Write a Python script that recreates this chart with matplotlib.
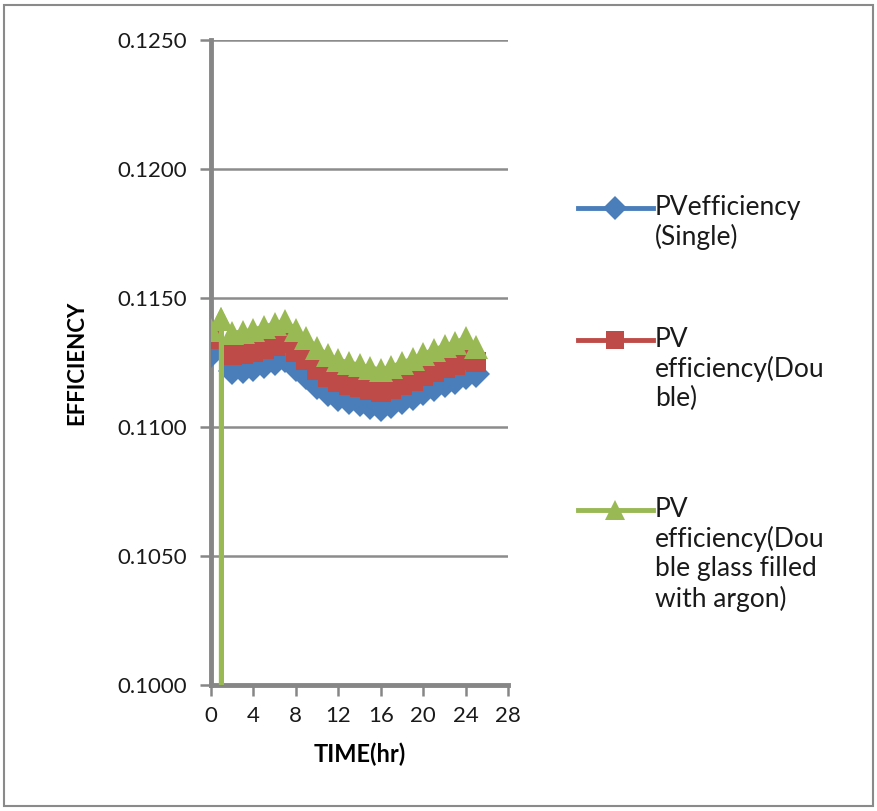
import matplotlib
matplotlib.use("Agg")
import matplotlib.pyplot as plt
import numpy as np
from matplotlib.lines import Line2D
from matplotlib.patches import Rectangle

plt.rcParams['font.family'] = ['Lato', 'DejaVu Sans']

# hora del dia (hora 1 sin dato en las series azul y roja)
hours = [0, 1, 2, 3, 4, 5, 6, 7, 8, 9, 10, 11, 12, 13, 14, 15, 16, 17, 18, 19,
         20, 21, 22, 23, 24, 25]

eff_single = [0.11283, np.nan, 0.11217, 0.11221, 0.11229, 0.11240, 0.11252, 0.11264,
              0.11229, 0.11198, 0.11159, 0.11132, 0.11112, 0.11101, 0.11093, 0.11081,
              0.11074, 0.11085, 0.11101, 0.11116, 0.11136, 0.11151, 0.11167, 0.11178,
              0.11198, 0.11205]

eff_double = [0.11341, np.nan, 0.11279, 0.11283, 0.11291, 0.11302, 0.11314, 0.11326,
              0.11291, 0.11260, 0.11221, 0.11194, 0.11174, 0.11163, 0.11155, 0.11143,
              0.11136, 0.11147, 0.11163, 0.11178, 0.11198, 0.11213, 0.11229, 0.11240,
              0.11260, 0.11252]

# la serie de argon cae a cero en la hora 1 (linea vertical)
hours_argon = [0, 1, 1, 1, 2, 3, 4, 5, 6, 7, 8, 9, 10, 11, 12, 13, 14, 15, 16, 17,
               18, 19, 20, 21, 22, 23, 24, 25]
eff_argon = [0.11376, 0.11419, 0.0, 0.11419, 0.11364, 0.11368, 0.11376, 0.11388,
             0.11399, 0.11411, 0.11376, 0.11345, 0.11306, 0.11279, 0.11260, 0.11248,
             0.11240, 0.11229, 0.11221, 0.11233, 0.11248, 0.11264, 0.11283, 0.11298,
             0.11314, 0.11326, 0.11345, 0.11310]

labels = ['PVefficiency\n(Single)',
          'PV\nefficiency(Dou\nble)',
          'PV\nefficiency(Dou\nble glass filled\nwith argon)']
colors = ['#4a7ebb', '#be4b48', '#98b954']
markers = ['D', 's', '^']
msizes = [14, 15, 17]
leg_msizes = [12, 13, 15]

yticks = [0.1000, 0.1050, 0.1100, 0.1150, 0.1200, 0.1250]
xticks = [0, 4, 8, 12, 16, 20, 24, 28]

fig = plt.figure(figsize=(8.78, 8.11), dpi=100)
ax = fig.add_axes([0.240, 0.1554, 0.339, 0.7953])

series = [(hours, eff_single), (hours, eff_double), (hours_argon, eff_argon)]
for i in range(3):
    xs, ys = series[i]
    ax.plot(xs, ys, color=colors[i], lw=3.5, marker=markers[i],
            markersize=msizes[i], markeredgewidth=0, zorder=3 + i)

ax.set_xlim(0, 28)
ax.set_ylim(0.1000, 0.1250)
ax.set_xticks(xticks)
ax.set_yticks(yticks)
ax.set_yticklabels(['%.4f' % v for v in yticks])
ax.grid(axis='y', color='#8c8c8c', lw=1.8, zorder=0)
ax.set_axisbelow(True)

for s in ['top', 'right']:
    ax.spines[s].set_visible(False)
for s in ['left', 'bottom']:
    ax.spines[s].set_color('#868686')
    ax.spines[s].set_linewidth(3.5)
    ax.spines[s].set_zorder(2)

ax.tick_params(axis='both', colors='#868686', width=1.8, length=8,
               labelcolor='#1a1a1a', labelsize=16)
ax.tick_params(axis='x', pad=7)
ax.tick_params(axis='y', pad=9)

ax.set_xlabel('TIME(hr)', fontsize=17, fontweight='bold', labelpad=12)
ax.set_ylabel('EFFICIENCY', fontsize=16, fontweight='bold', labelpad=22)

# leyenda a mano: el simbolo va alineado con la primera linea del texto
W, H = 878.0, 811.0
leg_y = [208, 340, 510]
for i in range(3):
    yy = 1 - leg_y[i] / H
    fig.add_artist(Line2D([578 / W, 653 / W], [yy, yy], color=colors[i], lw=3.5,
                          transform=fig.transFigure))
    fig.add_artist(Line2D([615.5 / W], [yy], color=colors[i], marker=markers[i],
                          markersize=leg_msizes[i], markeredgewidth=0,
                          transform=fig.transFigure))
    fig.text(655 / W, yy + 13 / H, labels[i], fontsize=19, va='top', ha='left',
             linespacing=1.2, color='#1a1a1a')

# marco exterior del grafico
fig.add_artist(Rectangle((4 / W, 5 / H), 869 / W, 801 / H, fill=False,
                         edgecolor='#8a8a8a', lw=1.5, transform=fig.transFigure))

fig.savefig('out.png', dpi=100)
